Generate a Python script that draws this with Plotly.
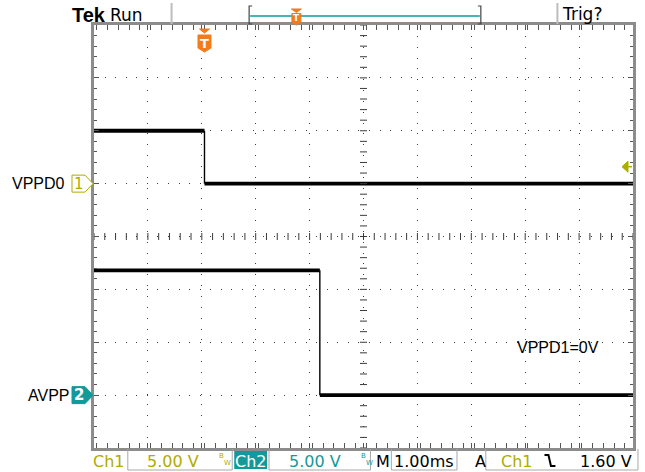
import numpy as np
import plotly.graph_objects as go

# ---- acquisition data -------------------------------------------------------
# Channel 1 (VPPD0): falls from 5 V to 0 V at the trigger point
ch1_time_ms = [-2.05, 0.0, 0.0, 7.95]
ch1_volts = [5.0, 5.0, 0.0, 0.0]
# Channel 2 (AVPP): falls from ~11.8 V to 0 V about 2.1 ms later
ch2_time_ms = [-2.05, 2.14, 2.14, 7.95]
ch2_volts = [11.8, 11.8, 0.0, 0.0]

trigger_level_v = 1.60
volts_per_div = 5.0
ms_per_div = 1.0
ch1_ground_div = 1     # ground reference, divisions above screen centre
ch2_ground_div = -3

channel_names = ["VPPD0", "AVPP"]
note_text = "VPPD1=0V"

# ---- colours / geometry -----------------------------------------------------
CH1_COL = "#adad00"
CH2_COL = "#14999a"
ORANGE = "#f27b1b"
FRAME = "#8c8c8c"
DOTS = "#3a3a3a"

W, H = 645, 472
ML, MR, MT, MB = 94, 9, 25, 24
PW, PH = W - ML - MR, H - MT - MB


def px(x):
    return (x - ML) / PW


def py(y):
    return (H - MB - y) / PH


t_left = ch1_time_ms[0]
x_range = [t_left, t_left + 10 * ms_per_div]
y1_range = [(-4 - ch1_ground_div) * volts_per_div, (4 - ch1_ground_div) * volts_per_div]
y2_range = [(-4 - ch2_ground_div) * volts_per_div, (4 - ch2_ground_div) * volts_per_div]

fig = go.Figure()


def add_channel(t, v, yaxis):
    # flat levels are thick (noise band), the edge itself is a thin stroke
    fig.add_trace(go.Scatter(x=t[0:2], y=v[0:2], yaxis=yaxis, mode="lines",
                             line=dict(color="black", width=3.8), hoverinfo="skip"))
    fig.add_trace(go.Scatter(x=t[1:3], y=v[1:3], yaxis=yaxis, mode="lines",
                             line=dict(color="black", width=1.4), hoverinfo="skip"))
    fig.add_trace(go.Scatter(x=t[2:4], y=v[2:4], yaxis=yaxis, mode="lines",
                             line=dict(color="black", width=3.8), hoverinfo="skip"))


add_channel(ch1_time_ms, ch1_volts, "y")
add_channel(ch2_time_ms, ch2_volts, "y2")

# centre-line graticule ticks
x_mid = t_left + 5 * ms_per_div
y_mid = (y1_range[0] + y1_range[1]) / 2
fig.add_trace(go.Scatter(
    x=np.arange(x_range[0], x_range[1] + 1e-9, ms_per_div / 5),
    y=[y_mid] * 51, mode="markers", yaxis="y",
    marker=dict(symbol="line-ns", size=5, line=dict(color=DOTS, width=1)),
    hoverinfo="skip"))
fig.add_trace(go.Scatter(
    x=[x_mid] * 41,
    y=np.arange(y1_range[0], y1_range[1] + 1e-9, volts_per_div / 5),
    mode="markers", yaxis="y",
    marker=dict(symbol="line-ew", size=5, line=dict(color=DOTS, width=1)),
    hoverinfo="skip"))

axis_common = dict(showline=True, linecolor=FRAME, linewidth=3, mirror="allticks",
                   ticks="inside", ticklen=5, tickcolor="#555", showticklabels=False,
                   zeroline=False, showgrid=True, gridcolor=DOTS, gridwidth=1)

fig.update_layout(
    width=W, height=H, autosize=False,
    margin=dict(l=ML, r=MR, t=MT, b=MB),
    paper_bgcolor="white", plot_bgcolor="white", showlegend=False,
    xaxis=dict(range=x_range, tick0=t_left, dtick=ms_per_div,
               griddash=f"1px,{PW / 50 - 1:.3f}px",
               minor=dict(dtick=ms_per_div / 5, ticks="inside", ticklen=3,
                          tickcolor="#555", showgrid=False),
               **axis_common),
    yaxis=dict(range=y1_range, tick0=y1_range[0], dtick=volts_per_div,
               griddash=f"1px,{PH / 40 - 1:.3f}px",
               minor=dict(dtick=volts_per_div / 5, ticks="inside", ticklen=3,
                          tickcolor="#555", showgrid=False),
               **axis_common),
    yaxis2=dict(range=y2_range, overlaying="y", visible=False),
)

shapes = []
annotations = []

# ---- ground reference markers ----------------------------------------------
marker_path = "M-22,8.5 L-9,8.5 L-1,0 L-9,-8.5 L-22,-8.5 Z"
shapes.append(dict(type="path", xref="paper", yref="y", xsizemode="pixel", ysizemode="pixel",
                   xanchor=0, yanchor=0, path=marker_path,
                   line=dict(color=CH1_COL, width=1), fillcolor="white"))
shapes.append(dict(type="path", xref="paper", yref="y2", xsizemode="pixel", ysizemode="pixel",
                   xanchor=0, yanchor=0, path=marker_path,
                   line=dict(color=CH2_COL, width=1), fillcolor=CH2_COL))
annotations.append(dict(xref="paper", yref="y", x=0, y=0, xanchor="center", yanchor="middle",
                        xshift=-15, text="1", showarrow=False,
                        font=dict(family="DejaVu Sans", size=15, color=CH1_COL)))
annotations.append(dict(xref="paper", yref="y2", x=0, y=0, xanchor="center", yanchor="middle",
                        xshift=-15, text="<b>2</b>", showarrow=False,
                        font=dict(family="DejaVu Sans", size=15, color="white")))
annotations.append(dict(xref="paper", yref="y", x=0, y=0, xanchor="right", yanchor="middle",
                        xshift=-27, text=channel_names[0], showarrow=False,
                        font=dict(family="Liberation Sans", size=16, color="black")))
annotations.append(dict(xref="paper", yref="y2", x=0, y=0, xanchor="right", yanchor="middle",
                        xshift=-22, text=channel_names[1], showarrow=False,
                        font=dict(family="Liberation Sans", size=16, color="black")))

# ---- trigger level arrow (right edge) --------------------------------------
shapes.append(dict(type="path", xref="paper", yref="y", xsizemode="pixel", ysizemode="pixel",
                   xanchor=1, yanchor=trigger_level_v,
                   path="M-11,0 L-5,5.5 L-5,-5.5 Z", line=dict(color=CH1_COL, width=1),
                   fillcolor=CH1_COL))
shapes.append(dict(type="path", xref="paper", yref="y", xsizemode="pixel", ysizemode="pixel",
                   xanchor=1, yanchor=trigger_level_v,
                   path="M-5,0 L-1,0", line=dict(color=CH1_COL, width=1.5)))

# ---- trigger position marker (top) -----------------------------------------
shapes.append(dict(type="path", xref="x", yref="paper", xsizemode="pixel", ysizemode="pixel",
                   xanchor=0, yanchor=1, path="M-5,-4 L5,-4 L0,-8 Z",
                   line=dict(color=ORANGE, width=1), fillcolor=ORANGE))
shapes.append(dict(type="path", xref="x", yref="paper", xsizemode="pixel", ysizemode="pixel",
                   xanchor=0, yanchor=1,
                   path="M-6.5,-10 L6.5,-10 L6.5,-23 L0,-27 L-6.5,-23 Z",
                   line=dict(color=ORANGE, width=1), fillcolor=ORANGE))
annotations.append(dict(xref="x", yref="paper", x=0, y=1, xanchor="center", yanchor="middle",
                        yshift=-18, text="<b>T</b>", showarrow=False,
                        font=dict(family="DejaVu Sans", size=13, color="white")))

annotations.append(dict(xref="paper", yref="paper", x=px(517), y=py(347), xanchor="left",
                        yanchor="middle", text=note_text, showarrow=False,
                        font=dict(family="Liberation Sans", size=16, color="black")))


# ---- header bar -------------------------------------------------------------
def ppath(points, close=False):
    s = " ".join(("M" if i == 0 else "L") + f"{px(x):.5f},{py(y):.5f}"
                 for i, (x, y) in enumerate(points))
    return s + (" Z" if close else "")


def text(x, y, s, size=16, color="black", family="DejaVu Sans", anchor="left"):
    annotations.append(dict(xref="paper", yref="paper", x=px(x), y=py(y), xanchor=anchor,
                            yanchor="middle", text=s, showarrow=False,
                            font=dict(family=family, size=size, color=color)))


text(70, 15, "<b>Tek</b>", size=20, family="Liberation Sans")
text(108, 15, "Run", size=17)
text(563, 14, "Trig?", size=17)
for xs in (172, 560):
    shapes.append(dict(type="path", xref="paper", yref="paper",
                       path=ppath([(xs, 3), (xs, 24)]), line=dict(color="#bdbdbd", width=2)))
shapes.append(dict(type="path", xref="paper", yref="paper",
                   path=ppath([(251, 16), (482, 16)]), line=dict(color="#45b6b4", width=2)))
shapes.append(dict(type="path", xref="paper", yref="paper",
                   path=ppath([(253, 6), (250, 6), (250, 24), (253, 24)]),
                   line=dict(color="#444", width=1.2)))
shapes.append(dict(type="path", xref="paper", yref="paper",
                   path=ppath([(480, 6), (483, 6), (483, 24), (480, 24)]),
                   line=dict(color="#444", width=1.2)))
shapes.append(dict(type="path", xref="paper", yref="paper",
                   path=ppath([(292.5, 9), (302.5, 9), (297.5, 12.5)], close=True),
                   line=dict(color=ORANGE, width=1), fillcolor=ORANGE))
shapes.append(dict(type="path", xref="paper", yref="paper",
                   path=ppath([(293, 13.5), (302, 13.5), (302, 22), (297.5, 25), (293, 22)],
                              close=True),
                   line=dict(color=ORANGE, width=1), fillcolor=ORANGE))
text(297.5, 18.5, "<b>T</b>", size=9, color="white", anchor="center")

# ---- status bar -------------------------------------------------------------
for x0, x1 in ((128, 233), (270, 372), (393, 459), (488, 641)):
    shapes.append(dict(type="path", xref="paper", yref="paper",
                       path=ppath([(x0, 449), (x0, 470), (x1, 470), (x1, 449)]),
                       line=dict(color="#a8a8a8", width=1)))
shapes.append(dict(type="rect", xref="paper", yref="paper",
                   x0=px(235), x1=px(268), y0=py(451), y1=py(469),
                   line=dict(width=0), fillcolor=CH2_COL))
text(91, 461, "Ch1", color=CH1_COL)
text(145, 461, "5.00 V", color=CH1_COL)
text(218, 456, "B", size=7, color=CH1_COL)
text(223, 463, "W", size=7, color=CH1_COL)
text(251.5, 461, "Ch2", color="white", anchor="center")
text(288, 461, "5.00 V", color=CH2_COL)
text(360, 456, "B", size=7, color=CH2_COL)
text(365, 463, "W", size=7, color=CH2_COL)
text(376, 461, "M")
text(394, 461, "1.00ms")
text(475, 461, "A")
text(501, 461, "Ch1", color=CH1_COL)
shapes.append(dict(type="path", xref="paper", yref="paper",
                   path=ppath([(547, 455), (551, 455), (553.5, 466), (558, 466)]),
                   line=dict(color="black", width=2)))
text(581, 461, "1.60 V")

fig.update_layout(shapes=shapes, annotations=annotations)
fig.write_html("out.html")
